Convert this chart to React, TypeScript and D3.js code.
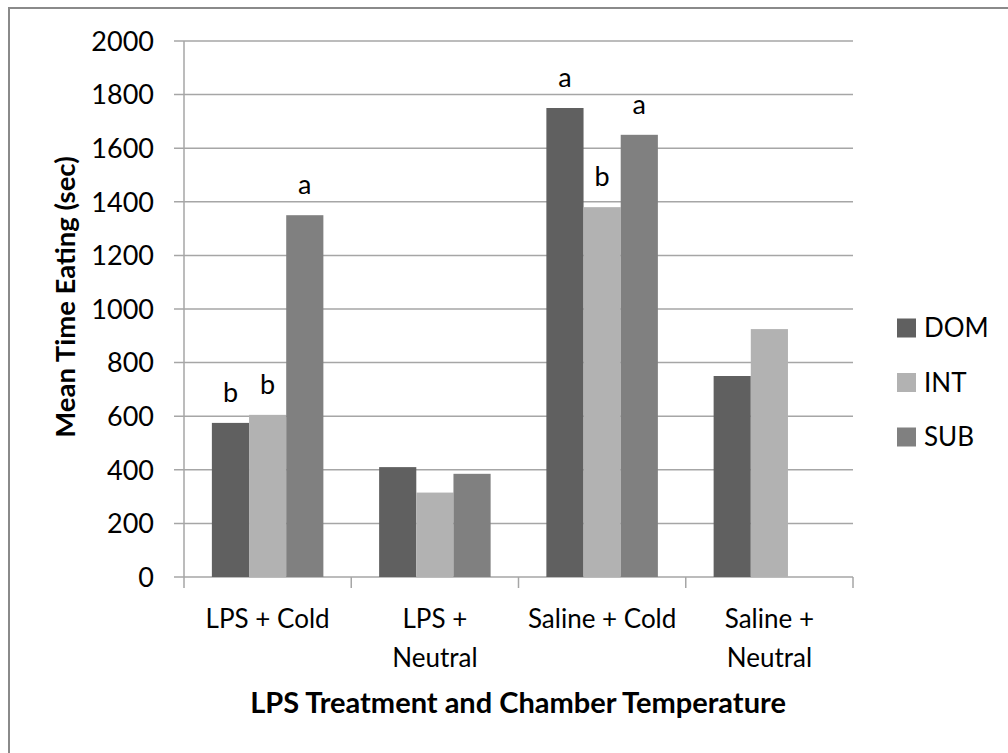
import React from "react";
import * as d3 from "d3";

const categories: string[][] = [["LPS + Cold"], ["LPS +", "Neutral"], ["Saline + Cold"], ["Saline +", "Neutral"]];
const seriesNames = ["DOM", "INT", "SUB"];
const domValues = [575, 410, 1750, 750];
const intValues = [605, 315, 1380, 925];
const subValues: (number | null)[] = [1350, 385, 1650, null];
const domLetters = ["b", "", "a", ""];
const intLetters = ["b", "", "b", ""];
const subLetters = ["a", "", "a", ""];
const yTicks = [0, 200, 400, 600, 800, 1000, 1200, 1400, 1600, 1800, 2000];
const colors = ["#606060", "#b2b2b2", "#808080"];

const FONT = "Lato, 'Open Sans', sans-serif";

export default function App() {
  const W = 1008, H = 753;
  const left = 184, right = 853, top = 41, bottom = 577;
  const catKeys = categories.map((c) => c.join(" "));
  const x0 = d3.scaleBand<string>().domain(catKeys).range([left, right]).padding(0);
  const bw = x0.bandwidth();
  const gap = (bw * 0.75) / 4.5;
  const x1 = d3.scaleBand<string>().domain(seriesNames).range([gap, bw - gap]).padding(0);
  const y = d3.scaleLinear().domain([0, 2000]).range([bottom, top]);
  const values = [domValues, intValues, subValues];
  const letters = [domLetters, intLetters, subLetters];
  const gridColor = "#a6a6a6";

  return (
    <svg width={W} height={H} style={{ position: "absolute", left: 0, top: 0, background: "#fff" }} fontFamily={FONT}>
      <rect x={9} y={8} width={1100} height={800} fill="#fff" stroke="#8a8a8a" strokeWidth={2} />
      {yTicks.map((t) => (
        <g key={t}>
          <line x1={left - 10} x2={right} y1={y(t)} y2={y(t)} stroke={gridColor} strokeWidth={1.5} />
          <text x={154} y={y(t)} dy="0.36em" textAnchor="end" fontSize={27} fill="#000">{t}</text>
        </g>
      ))}
      <line x1={left} x2={left} y1={top} y2={bottom} stroke={gridColor} strokeWidth={1.5} />
      {[...catKeys.map((k) => x0(k)!), right].map((xv, i) => (
        <line key={i} x1={xv} x2={xv} y1={bottom} y2={bottom + 11} stroke={gridColor} strokeWidth={1.5} />
      ))}
      {values.map((vals, si) =>
        vals.map((v, ci) => {
          if (v == null) return null;
          const bx = x0(catKeys[ci])! + x1(seriesNames[si])!;
          return (
            <g key={`${si}-${ci}`}>
              <rect x={bx} y={y(v)} width={x1.bandwidth()} height={bottom - y(v)} fill={colors[si]} />
              {letters[si][ci] && (
                <text x={bx + x1.bandwidth() / 2} y={y(v) - 21} textAnchor="middle" fontSize={27} fill="#000">
                  {letters[si][ci]}
                </text>
              )}
            </g>
          );
        })
      )}
      {categories.map((lines, ci) => (
        <text key={ci} x={x0(catKeys[ci])! + bw / 2} y={628} textAnchor="middle" fontSize={26} fill="#000">
          {lines.map((ln, li) => (
            <tspan key={li} x={x0(catKeys[ci])! + bw / 2} dy={li === 0 ? 0 : 39}>{ln}</tspan>
          ))}
        </text>
      ))}
      <text x={518} y={713} textAnchor="middle" fontSize={29} fontWeight="bold" fill="#000">
        LPS Treatment and Chamber Temperature
      </text>
      <text transform={`translate(75, 297) rotate(-90)`} textAnchor="middle" fontSize={27.5} fontWeight="bold" fill="#000">
        Mean Time Eating (sec)
      </text>
      {seriesNames.map((s, i) => (
        <g key={s} transform={`translate(897, ${328 + i * 54.5})`}>
          <rect x={0} y={-9.5} width={19} height={19} fill={colors[i]} />
          <text x={27} y={0} dy="0.36em" fontSize={26} fill="#000">{s}</text>
        </g>
      ))}
    </svg>
  );
}
